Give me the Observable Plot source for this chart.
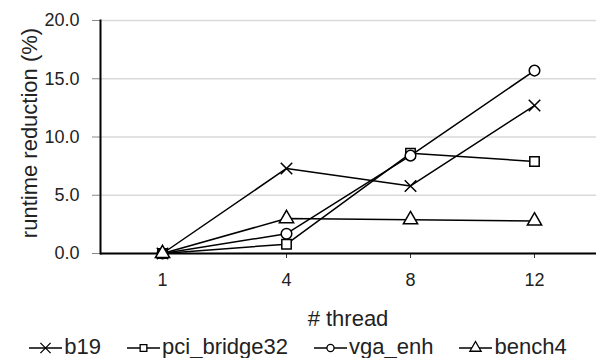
<!DOCTYPE html>
<html><head><meta charset="utf-8">
<script src="https://cdn.jsdelivr.net/npm/d3@7"></script>
<script src="https://cdn.jsdelivr.net/npm/@observablehq/plot@0.6"></script>
<style>
body{margin:0;background:#fff;font-family:"Liberation Sans",Arial,sans-serif;color:#000;}
#chart svg{display:block;}
#xtitle{margin-top:8px;padding-left:100px;text-align:center;font-size:22px;line-height:22px;height:22px;color:#222;}
#legend{display:flex;justify-content:center;align-items:center;gap:26px;font-size:22px;line-height:22px;margin-top:6px;color:#222;}
#legend .it{display:flex;align-items:center;}
#legend svg{display:block;margin-right:2px;}
</style></head><body>
<div id="chart"></div>
<div id="xtitle"># thread</div>
<div id="legend"></div>
<script>
const threads = ["1","4","8","12"];
const seriesNames = ["b19","pci_bridge32","vga_enh","bench4"];
const symbols = ["times","square","circle","triangle"];
const b19 = [0, 7.3, 5.8, 12.7];
const pci_bridge32 = [0, 0.8, 8.6, 7.9];
const vga_enh = [0, 1.7, 8.4, 15.7];
const bench4 = [0, 3.0, 2.9, 2.8];
const yTicks = [0, 5, 10, 15, 20];
const yTitle = "runtime reduction (%)";

const values = [b19, pci_bridge32, vga_enh, bench4];
const data = [];
seriesNames.forEach((s, i) => threads.forEach((t, j) => data.push({series: s, thread: t, value: values[i][j]})));

const chart = Plot.plot({
  width: 596, height: 300,
  marginLeft: 100, marginRight: 0, marginTop: 20, marginBottom: 47,
  style: {fontFamily: '"Liberation Sans", Arial, sans-serif', fontSize: "18px", color: "#222", background: "#fff"},
  x: {type: "point", domain: threads, padding: 0.5},
  y: {domain: [0, 20]},
  symbol: {domain: seriesNames, range: symbols},
  marks: [
    Plot.gridY(yTicks, {stroke: "#d9d9d9", strokeOpacity: 1, strokeWidth: 1.3}),
    Plot.axisY(yTicks, {tickFormat: d3.format(".1f"), tickSize: 8, tickPadding: 13, fontSize: 18, stroke: "#888", label: null}),
    Plot.axisX({tickSize: 5, tickPadding: 15, fontSize: 18, stroke: "#333", label: null}),
    Plot.text([yTitle], {frameAnchor: "left", textAnchor: "middle", lineAnchor: "middle", dx: -71, dy: -4, rotate: -90, fontSize: 22, fill: "#222"}),
    Plot.frame({anchor: "left", stroke: "#000", strokeWidth: 2}),
    Plot.ruleY([0], {stroke: "#000", strokeWidth: 2}),
    Plot.line(data, {x: "thread", y: "value", z: "series", stroke: "#000", strokeWidth: 1.5}),
    Plot.dot(data, {x: "thread", y: "value", symbol: "series", r: 5.3, fill: "#fff", stroke: "#000", strokeWidth: 1.5})
  ]
});
document.getElementById("chart").appendChild(chart);

// legend
const legend = document.getElementById("legend");
const symMap = {times: d3.symbolTimes, square: d3.symbolSquare, circle: d3.symbolCircle, triangle: d3.symbolTriangle};
seriesNames.forEach((s, i) => {
  const it = document.createElement("div");
  it.className = "it";
  const svg = d3.create("svg").attr("width", 33).attr("height", 16);
  svg.append("line").attr("x1", 0).attr("x2", 33).attr("y1", 9).attr("y2", 9).attr("stroke", "#000").attr("stroke-width", 1.5);
  const size = {times: 70, square: 45, circle: 40, triangle: 55}[symbols[i]];
  svg.append("path").attr("d", d3.symbol(symMap[symbols[i]], size)()).attr("transform", "translate(16.5,9)")
    .attr("fill", "#fff").attr("stroke", "#000").attr("stroke-width", 1.3);
  it.appendChild(svg.node());
  const sp = document.createElement("span");
  sp.textContent = s;
  it.appendChild(sp);
  legend.appendChild(it);
});
</script>
</body></html>
